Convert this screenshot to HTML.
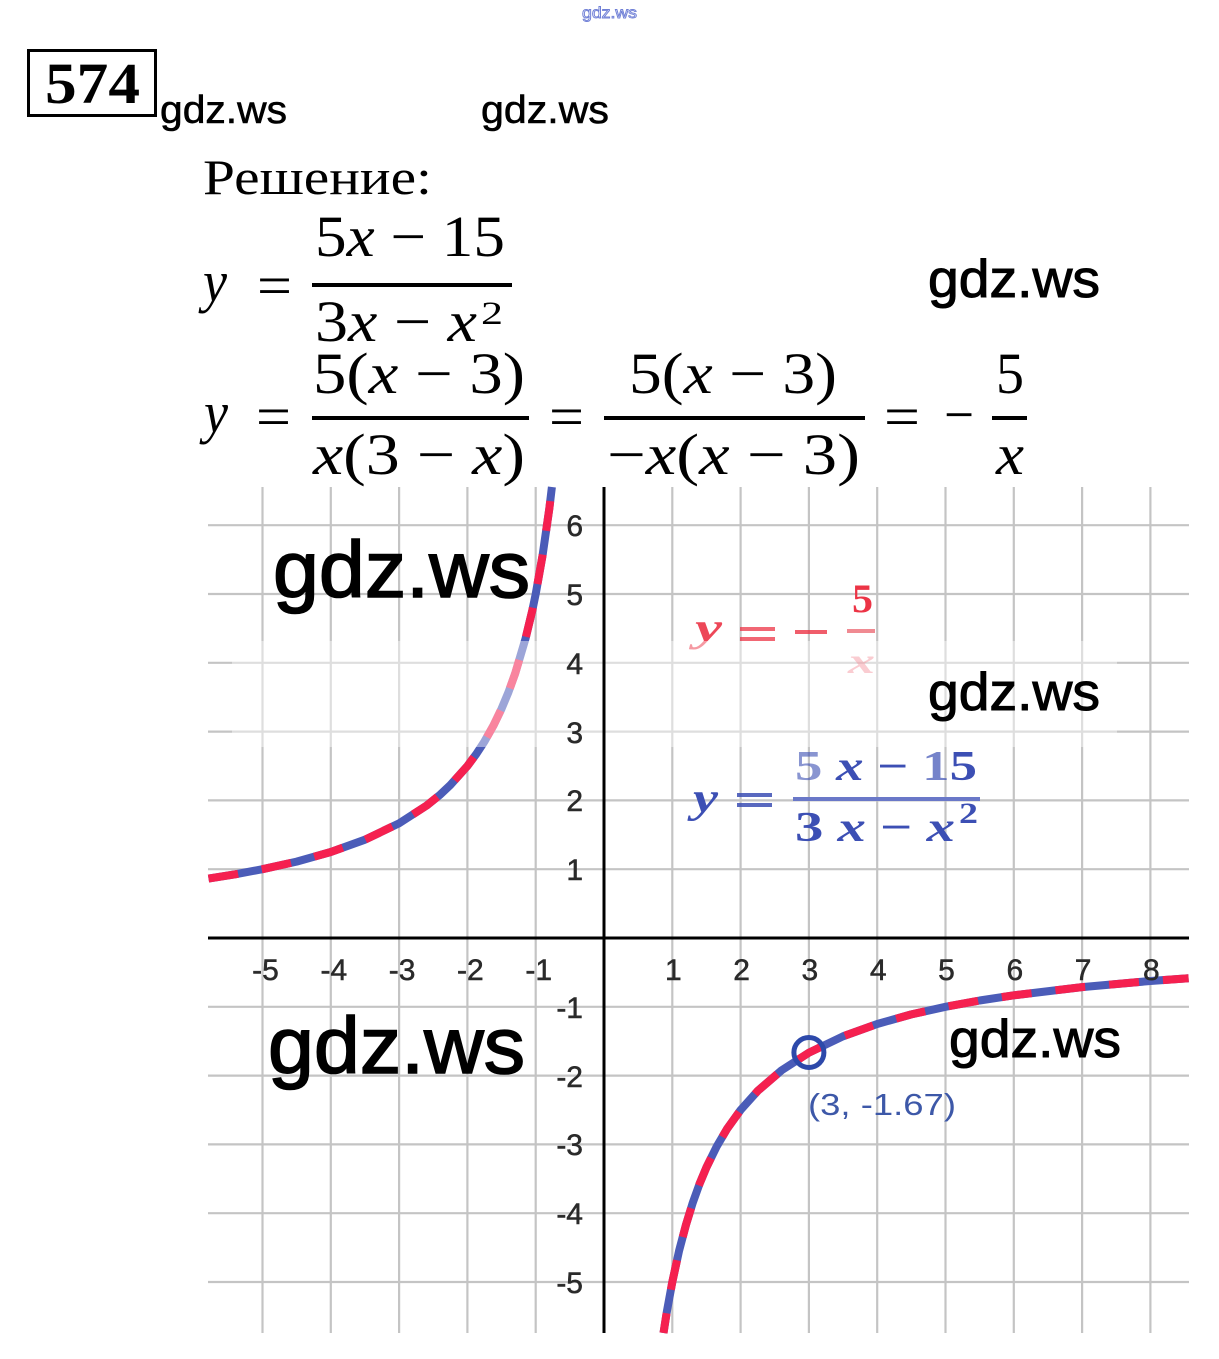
<!DOCTYPE html>
<html>
<head>
<meta charset="utf-8">
<style>
html,body{margin:0;padding:0;background:#fff;}
svg{display:block;}
.ser{font-family:"Liberation Serif",serif;}
.san{font-family:"Liberation Sans",sans-serif;}
</style>
</head>
<body>
<svg width="1219" height="1359" viewBox="0 0 1219 1359" xmlns="http://www.w3.org/2000/svg">
<rect width="1219" height="1359" fill="#fff"/>

<!-- tiny top watermark -->
<text class="san" x="582" y="18" font-size="16" fill="#fff" stroke="#6f7fd6" stroke-width="0.9" textLength="55" lengthAdjust="spacingAndGlyphs">gdz.ws</text>

<!-- 574 box -->
<rect x="28.5" y="50.5" width="127" height="65" fill="none" stroke="#000" stroke-width="3"/>
<text class="ser" x="45" y="103" font-size="58" font-weight="bold" textLength="95" lengthAdjust="spacingAndGlyphs">574</text>
<text class="san" x="160" y="123" font-size="39" stroke="#000" stroke-width="0.6" textLength="127" lengthAdjust="spacingAndGlyphs">gdz.ws</text>
<text class="san" x="481" y="123" font-size="39" stroke="#000" stroke-width="0.6" textLength="128" lengthAdjust="spacingAndGlyphs">gdz.ws</text>

<!-- Решение -->
<text class="ser" x="203" y="194" font-size="50" textLength="229" lengthAdjust="spacingAndGlyphs">Решение:</text>

<!-- Equation 1 -->
<text class="ser" x="203" y="301" font-size="58" font-style="italic" textLength="24" lengthAdjust="spacingAndGlyphs">y</text>
<text class="ser" x="257" y="305" font-size="58" textLength="35" lengthAdjust="spacingAndGlyphs">=</text>
<text class="ser" x="315" y="256" font-size="58" textLength="190" lengthAdjust="spacingAndGlyphs">5<tspan font-style="italic">x</tspan> − 15</text>
<rect x="312" y="283" width="200" height="4" fill="#000"/>
<text class="ser" x="315" y="341" font-size="58" textLength="162" lengthAdjust="spacingAndGlyphs">3<tspan font-style="italic">x</tspan> − <tspan font-style="italic">x</tspan></text>
<text class="ser" x="481" y="324" font-size="33" textLength="22" lengthAdjust="spacingAndGlyphs">2</text>

<!-- Equation 2 -->
<text class="ser" x="204" y="432" font-size="58" font-style="italic" textLength="24" lengthAdjust="spacingAndGlyphs">y</text>
<text class="ser" x="256" y="436" font-size="58" textLength="35" lengthAdjust="spacingAndGlyphs">=</text>
<text class="ser" x="313" y="393" font-size="58" textLength="212" lengthAdjust="spacingAndGlyphs">5(<tspan font-style="italic">x</tspan> − 3)</text>
<rect x="312" y="416" width="217" height="4" fill="#000"/>
<text class="ser" x="313" y="474" font-size="58" textLength="212" lengthAdjust="spacingAndGlyphs"><tspan font-style="italic">x</tspan>(3 − <tspan font-style="italic">x</tspan>)</text>
<text class="ser" x="549" y="436" font-size="58" textLength="35" lengthAdjust="spacingAndGlyphs">=</text>
<text class="ser" x="629" y="393" font-size="58" textLength="208" lengthAdjust="spacingAndGlyphs">5(<tspan font-style="italic">x</tspan> − 3)</text>
<rect x="604" y="416" width="261" height="4" fill="#000"/>
<text class="ser" x="607" y="474" font-size="58" textLength="253" lengthAdjust="spacingAndGlyphs">−<tspan font-style="italic">x</tspan>(<tspan font-style="italic">x</tspan> − 3)</text>
<text class="ser" x="884" y="436" font-size="58" textLength="36" lengthAdjust="spacingAndGlyphs">=</text>
<text class="ser" x="944" y="434" font-size="58" textLength="30" lengthAdjust="spacingAndGlyphs">−</text>
<text class="ser" x="996" y="393" font-size="58" textLength="28" lengthAdjust="spacingAndGlyphs">5</text>
<rect x="992" y="416" width="35" height="4" fill="#000"/>
<text class="ser" x="996" y="474" font-size="58" font-style="italic" textLength="28" lengthAdjust="spacingAndGlyphs">x</text>

<!-- watermark near eq -->
<text class="san" x="928" y="297" font-size="53" stroke="#000" stroke-width="1" textLength="172" lengthAdjust="spacingAndGlyphs">gdz.ws</text>

<!-- GRID -->
<g stroke="#c4c4c4" stroke-width="2.2">
  <line x1="262.5" y1="487" x2="262.5" y2="1333"/>
  <line x1="330.8" y1="487" x2="330.8" y2="1333"/>
  <line x1="399.1" y1="487" x2="399.1" y2="1333"/>
  <line x1="467.4" y1="487" x2="467.4" y2="1333"/>
  <line x1="535.7" y1="487" x2="535.7" y2="1333"/>
  <line x1="672.3" y1="487" x2="672.3" y2="1333"/>
  <line x1="740.6" y1="487" x2="740.6" y2="1333"/>
  <line x1="808.9" y1="487" x2="808.9" y2="1333"/>
  <line x1="877.2" y1="487" x2="877.2" y2="1333"/>
  <line x1="945.5" y1="487" x2="945.5" y2="1333"/>
  <line x1="1013.8" y1="487" x2="1013.8" y2="1333"/>
  <line x1="1082.1" y1="487" x2="1082.1" y2="1333"/>
  <line x1="1150.4" y1="487" x2="1150.4" y2="1333"/>

  <line x1="208" y1="525.2" x2="1189" y2="525.2"/>
  <line x1="208" y1="594" x2="1189" y2="594"/>
  <line x1="208" y1="662.8" x2="1189" y2="662.8"/>
  <line x1="208" y1="731.6" x2="1189" y2="731.6"/>
  <line x1="208" y1="800.4" x2="1189" y2="800.4"/>
  <line x1="208" y1="869.2" x2="1189" y2="869.2"/>
  <line x1="208" y1="1006.8" x2="1189" y2="1006.8"/>
  <line x1="208" y1="1075.6" x2="1189" y2="1075.6"/>
  <line x1="208" y1="1144.4" x2="1189" y2="1144.4"/>
  <line x1="208" y1="1213.2" x2="1189" y2="1213.2"/>
  <line x1="208" y1="1282" x2="1189" y2="1282"/>
</g>

<!-- CURVES -->
<g fill="none" stroke-linejoin="round">
  <polyline stroke="#4b5cb8" stroke-width="8" points="208.5,878.6 235.2,874.3 262.5,869.2 296.65,861.6 330.8,852 364.95,839.7 399.1,823.3 426.4,805.7 440.1,794.7 450.3,785.1 467.4,766 476.3,754 484.5,741.4 493.35,725.7 501.55,708.7 508.4,692.3 515.2,673.4 525.45,638.9 532.3,610.4 535.7,594 542.5,555.8 549.4,508 551.9,487"/>
  <polyline stroke="#f5204f" stroke-width="8" stroke-dasharray="30 24" points="208.5,878.6 235.2,874.3 262.5,869.2 296.65,861.6 330.8,852 364.95,839.7 399.1,823.3 426.4,805.7 440.1,794.7 450.3,785.1 467.4,766 476.3,754 484.5,741.4 493.35,725.7 501.55,708.7 508.4,692.3 515.2,673.4 525.45,638.9 532.3,610.4 535.7,594 542.5,555.8 549.4,508 551.9,487"/>
  <polyline stroke="#4b5cb8" stroke-width="8" points="663.5,1333 666.8,1311.9 672.3,1282 679.1,1250.7 686,1224.7 692.8,1202.6 699.6,1183.7 706.45,1167.3 716.7,1146.5 726.9,1129.1 740.6,1110 757.7,1090.9 781.6,1070.3 808.9,1052.7 843.05,1036.3 877.2,1024 911.35,1014.4 945.5,1006.8 979.65,1000.5 1013.8,995.3 1082.1,987.1 1150.4,981 1188.6,978.2"/>
  <polyline stroke="#f5204f" stroke-width="8" stroke-dasharray="30 24" stroke-dashoffset="10" points="663.5,1333 666.8,1311.9 672.3,1282 679.1,1250.7 686,1224.7 692.8,1202.6 699.6,1183.7 706.45,1167.3 716.7,1146.5 726.9,1129.1 740.6,1110 757.7,1090.9 781.6,1070.3 808.9,1052.7 843.05,1036.3 877.2,1024 911.35,1014.4 945.5,1006.8 979.65,1000.5 1013.8,995.3 1082.1,987.1 1150.4,981 1188.6,978.2"/>
</g>

<!-- red legend -->
<g fill="#ec3446">
  <text class="ser" x="695" y="641" font-size="40" font-weight="bold" font-style="italic" textLength="27" lengthAdjust="spacingAndGlyphs" opacity="0.9">y</text>
  <rect x="740" y="627" width="35" height="4" opacity="0.75"/>
  <rect x="740" y="637" width="35" height="4" opacity="0.75"/>
  <rect x="795" y="630" width="32" height="4" opacity="0.8"/>
  <text class="ser" x="852" y="612" font-size="40" font-weight="bold" textLength="21" lengthAdjust="spacingAndGlyphs">5</text>
  <rect x="847" y="629" width="28" height="4" fill="#f08a92"/>
  <text class="ser" x="848" y="673" font-size="36" font-weight="bold" font-style="italic" textLength="27" lengthAdjust="spacingAndGlyphs" opacity="0.45">x</text>
</g>

<!-- faded band (ghost watermark) -->
<rect x="232" y="641" width="885" height="106" fill="#fff" opacity="0.45"/>

<!-- AXES -->
<line x1="208" y1="938" x2="1189" y2="938" stroke="#000" stroke-width="3"/>
<line x1="604" y1="487" x2="604" y2="1333" stroke="#000" stroke-width="3"/>

<!-- tick labels -->
<g font-size="30" fill="#2a2a2a" stroke="#2a2a2a" stroke-width="0.5" text-anchor="middle" font-family="Liberation Sans, sans-serif">
  <text x="265.5" y="980">-5</text>
  <text x="333.8" y="980">-4</text>
  <text x="402.1" y="980">-3</text>
  <text x="470.4" y="980">-2</text>
  <text x="538.7" y="980">-1</text>
  <text x="673.3" y="980">1</text>
  <text x="741.6" y="980">2</text>
  <text x="809.9" y="980">3</text>
  <text x="878.2" y="980">4</text>
  <text x="946.5" y="980">5</text>
  <text x="1014.8" y="980">6</text>
  <text x="1083.1" y="980">7</text>
  <text x="1151.4" y="980">8</text>
</g>
<g font-size="30" fill="#2a2a2a" stroke="#2a2a2a" stroke-width="0.5" text-anchor="end" font-family="Liberation Sans, sans-serif">
  <text x="583" y="536">6</text>
  <text x="583" y="605">5</text>
  <text x="583" y="674">4</text>
  <text x="583" y="743">3</text>
  <text x="583" y="811">2</text>
  <text x="583" y="880">1</text>
  <text x="583" y="1018">-1</text>
  <text x="583" y="1087">-2</text>
  <text x="583" y="1155">-3</text>
  <text x="583" y="1224">-4</text>
  <text x="583" y="1293">-5</text>
</g>

<!-- blue legend -->
<g fill="#3c4fb4">
  <text class="ser" x="693" y="812" font-size="42" font-weight="bold" font-style="italic" textLength="25" lengthAdjust="spacingAndGlyphs">y</text>
  <rect x="737" y="793" width="35" height="4" opacity="0.85"/>
  <rect x="737" y="803" width="35" height="4" opacity="0.85"/>
  <text class="ser" x="795" y="780" font-size="42" font-weight="bold" textLength="182" lengthAdjust="spacingAndGlyphs"><tspan opacity="0.6">5</tspan> <tspan font-style="italic">x</tspan> − <tspan opacity="0.7">1</tspan>5</text>
  <rect x="793" y="797" width="187" height="4" fill="#6a78c8"/>
  <text class="ser" x="795" y="841" font-size="42" font-weight="bold" textLength="160" lengthAdjust="spacingAndGlyphs">3 <tspan font-style="italic">x</tspan> − <tspan font-style="italic">x</tspan></text>
  <text class="ser" x="959" y="823" font-size="30" font-weight="bold" textLength="19" lengthAdjust="spacingAndGlyphs">2</text>
</g>

<!-- point -->
<circle cx="808.9" cy="1052.5" r="15" fill="none" stroke="#2d49aa" stroke-width="5"/>
<text x="808" y="1115" font-family="Liberation Sans, sans-serif" font-size="31" fill="#3d58a8" textLength="148" lengthAdjust="spacingAndGlyphs">(3, -1.67)</text>

<!-- big watermarks -->
<g font-family="Liberation Sans, sans-serif" fill="#000" stroke="#000">
  <text x="273" y="597" font-size="80" stroke-width="1.6" textLength="257" lengthAdjust="spacingAndGlyphs">gdz.ws</text>
  <text x="928" y="710" font-size="53" stroke-width="1" textLength="172" lengthAdjust="spacingAndGlyphs">gdz.ws</text>
  <text x="268" y="1073" font-size="80" stroke-width="1.6" textLength="257" lengthAdjust="spacingAndGlyphs">gdz.ws</text>
  <text x="949" y="1057" font-size="53" stroke-width="1" textLength="172" lengthAdjust="spacingAndGlyphs">gdz.ws</text>
</g>
</svg>
</body>
</html>
